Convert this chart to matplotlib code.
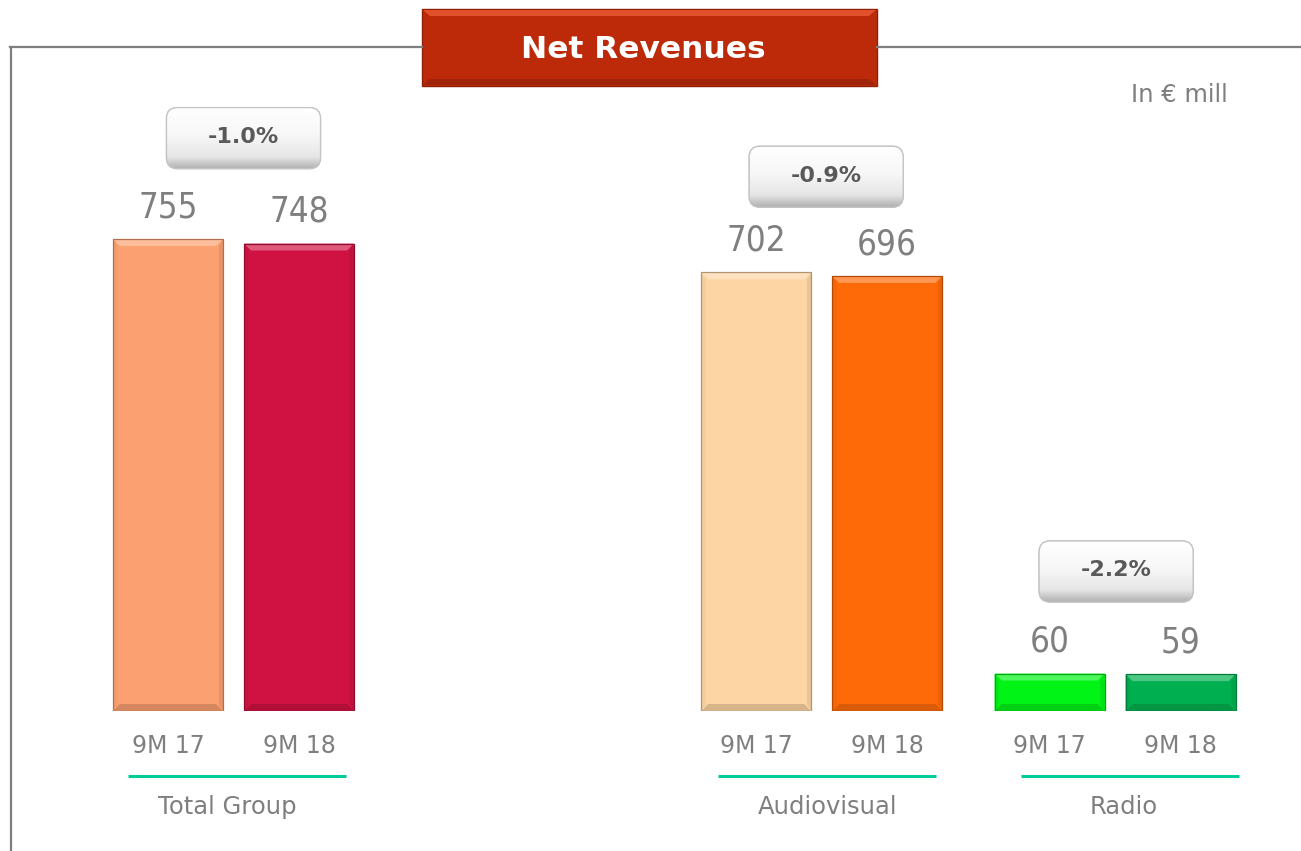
import matplotlib
matplotlib.use("Agg")
import matplotlib.pyplot as plt
import numpy as np
from matplotlib.patches import FancyBboxPatch, Rectangle, Polygon
from matplotlib.colors import to_rgb, LinearSegmentedColormap

# ---------------- data ----------------
groups = ["Total Group", "Audiovisual", "Radio"]
periods = ["9M 17", "9M 18"]
values_9m17 = [755, 702, 60]
values_9m18 = [748, 696, 59]
changes = ["-1.0%", "-0.9%", "-2.2%"]
colors_9m17 = ["#FBA070", "#FDD5A4", "#00F516"]
colors_9m18 = ["#D01242", "#FF6A08", "#00B050"]
title = "Net Revenues"
unit_note = "In \u20ac mill"

# ---------------- style ----------------
W, H, DPI = 13.01, 8.51, 100
fig = plt.figure(figsize=(W, H), dpi=DPI)
fig.patch.set_facecolor("white")
gray = "#7F7F7F"

# axes: baseline at y=711 px from top, 0.625 px per unit
px_per_unit = 0.625
ymax = 1000
base_px = 711
ax_bottom = (851 - base_px) / 851
ax_height = ymax * px_per_unit / 851
ax = fig.add_axes([0, ax_bottom, 1, ax_height])
ax.set_facecolor("none")
unit_px = 131.0
x0_px = 168.0
ax.axis("off")

group_starts = [0.0, 4.49, 6.73]
bar_w = 110 / unit_px
# layout offsets (pixels) per group
underline_dx = [3.5, 5.5, 14.5]
label_dx = [-6.5, 6.0, 9.0]
box_dx = [10.0, 4.5, 1.0]
box_dy = [101.0, 95.5, 102.0]

def shade(c, f):
    r = np.array(to_rgb(c))
    if f >= 0:
        return tuple(r + (1 - r) * f)
    return tuple(r * (1 + f))

bev_x = 7 / unit_px
bev_y = 7 / px_per_unit

def bevel_bar(xc, h, color):
    ax.bar(xc, h, width=bar_w, color=color, edgecolor="none", zorder=3)
    l, r = xc - bar_w / 2, xc + bar_w / 2
    bx = min(bev_x, bar_w / 2)
    by = min(bev_y, h / 2)
    ax.add_patch(Polygon([[l, h], [r, h], [r - bx, h - by], [l + bx, h - by]],
                         closed=True, facecolor=shade(color, 0.3), edgecolor="none", zorder=4))
    ax.add_patch(Polygon([[l, 0], [r, 0], [r - bx, by], [l + bx, by]],
                         closed=True, facecolor=shade(color, -0.15), edgecolor="none", zorder=4))
    ax.add_patch(Polygon([[l, 0], [l + bx * 0.6, by], [l + bx * 0.6, h - by], [l, h]],
                         closed=True, facecolor=shade(color, -0.04), edgecolor="none", zorder=4))
    ax.add_patch(Polygon([[r, 0], [r - bx * 0.6, by], [r - bx * 0.6, h - by], [r, h]],
                         closed=True, facecolor=shade(color, -0.08), edgecolor="none", zorder=4))
    ax.add_patch(Rectangle((l, 0), bar_w, h, facecolor="none",
                           edgecolor=shade(color, -0.3), linewidth=0.9, zorder=5))

box_w = 154 / unit_px
box_h = 61 / px_per_unit
rad = 11 / unit_px
aspect = unit_px / px_per_unit
grad = np.linspace(0.0, 1.0, 256).reshape(-1, 1)
box_cmap = LinearSegmentedColormap.from_list(
    "bx", [(0, "#FFFFFF"), (0.45, "#F7F7F7"), (0.8, "#E6E6E6"), (1.0, "#B0B0B0")])

for i, g in enumerate(groups):
    xs = [group_starts[i], group_starts[i] + 1]
    vals = [values_9m17[i], values_9m18[i]]
    cols = [colors_9m17[i], colors_9m18[i]]
    for x, v, c, p in zip(xs, vals, cols, periods):
        bevel_bar(x, v, c)
        ax.annotate(str(v), (x, v), xytext=(0, 23), textcoords="offset points",
                    ha="center", va="center", fontsize=25, color=gray,
                    family="DejaVu Sans", fontstretch="condensed")
        ax.annotate(p, (x, 0), xytext=(0, -25), textcoords="offset points",
                    ha="center", va="center", fontsize=17, color=gray)
    cx = (xs[0] + xs[1]) / 2
    ucx = cx + underline_dx[i] / unit_px
    half = 109 / unit_px
    ax.plot([ucx - half, ucx + half], [-65 / px_per_unit] * 2, color="#00CC99",
            lw=2.2, clip_on=False, solid_capstyle="butt")
    ax.text(cx + label_dx[i] / unit_px, -96 / px_per_unit, g, ha="center", va="center",
            fontsize=17.5, color=gray, clip_on=False)
    # change box
    bcx = cx + box_dx[i] / unit_px
    cy = max(vals) + box_dy[i] / px_per_unit
    patch = FancyBboxPatch((bcx - box_w / 2 + rad, cy - box_h / 2 + rad * aspect),
                           box_w - 2 * rad, box_h - 2 * rad * aspect,
                           boxstyle=f"round,pad={rad},rounding_size={rad}",
                           mutation_aspect=aspect, facecolor="#EEEEEE",
                           edgecolor="#BDBDBD", linewidth=1.0, zorder=5)
    ax.add_patch(patch)
    im = ax.imshow(grad, extent=(bcx - box_w / 2, bcx + box_w / 2, cy - box_h / 2, cy + box_h / 2),
                   cmap=box_cmap, vmin=0, vmax=1, aspect="auto", zorder=5.5,
                   interpolation="bilinear")
    im.set_clip_path(patch)
    ax.add_patch(FancyBboxPatch((bcx - box_w / 2 + rad, cy - box_h / 2 + rad * aspect),
                                box_w - 2 * rad, box_h - 2 * rad * aspect,
                                boxstyle=f"round,pad={rad},rounding_size={rad}",
                                mutation_aspect=aspect, facecolor="none",
                                edgecolor="#C4C4C4", linewidth=0.9, zorder=5.7))
    ax.text(bcx, cy + 1 / px_per_unit, changes[i], ha="center", va="center",
            fontsize=16, fontweight="bold", color="#595959", zorder=6)

ax.set_xlim(-x0_px / unit_px, (1301 - x0_px) / unit_px)
ax.set_ylim(0, ymax)

# ---------------- frame, title ----------------
def fx(px):
    return px / 1301
def fy(py):
    return 1 - py / 851

fig.add_artist(plt.Line2D([fx(10), fx(422)], [fy(47), fy(47)], color=gray, lw=1.6))
fig.add_artist(plt.Line2D([fx(877), fx(1301)], [fy(47), fy(47)], color=gray, lw=1.6))
fig.add_artist(plt.Line2D([fx(11), fx(11)], [fy(47), fy(851)], color=gray, lw=1.6))

tl, tr, tt, tb = 422, 877, 9, 86
fig.add_artist(Rectangle((fx(tl), fy(tb)), fx(tr) - fx(tl), fy(tt) - fy(tb),
                         facecolor="#BD2A0A", edgecolor="#8E2008", lw=1.0))
fig.add_artist(Polygon([[fx(tl + 1), fy(tt + 1)], [fx(tr - 1), fy(tt + 1)],
                        [fx(tr - 8), fy(tt + 7)], [fx(tl + 8), fy(tt + 7)]],
                       closed=True, facecolor="#E0502A", edgecolor="none"))
fig.add_artist(Polygon([[fx(tl + 1), fy(tb - 1)], [fx(tr - 1), fy(tb - 1)],
                        [fx(tr - 8), fy(tb - 7)], [fx(tl + 8), fy(tb - 7)]],
                       closed=True, facecolor="#A02409", edgecolor="none"))
fig.text(fx((tl + tr) / 2 - 6), fy(49), title, ha="center", va="center",
         fontsize=22.5, fontweight="bold", color="white")

fig.text(fx(1228), fy(95), unit_note, ha="right", va="center", fontsize=17.5, color=gray)

fig.savefig("out.png", dpi=DPI, facecolor="white")
